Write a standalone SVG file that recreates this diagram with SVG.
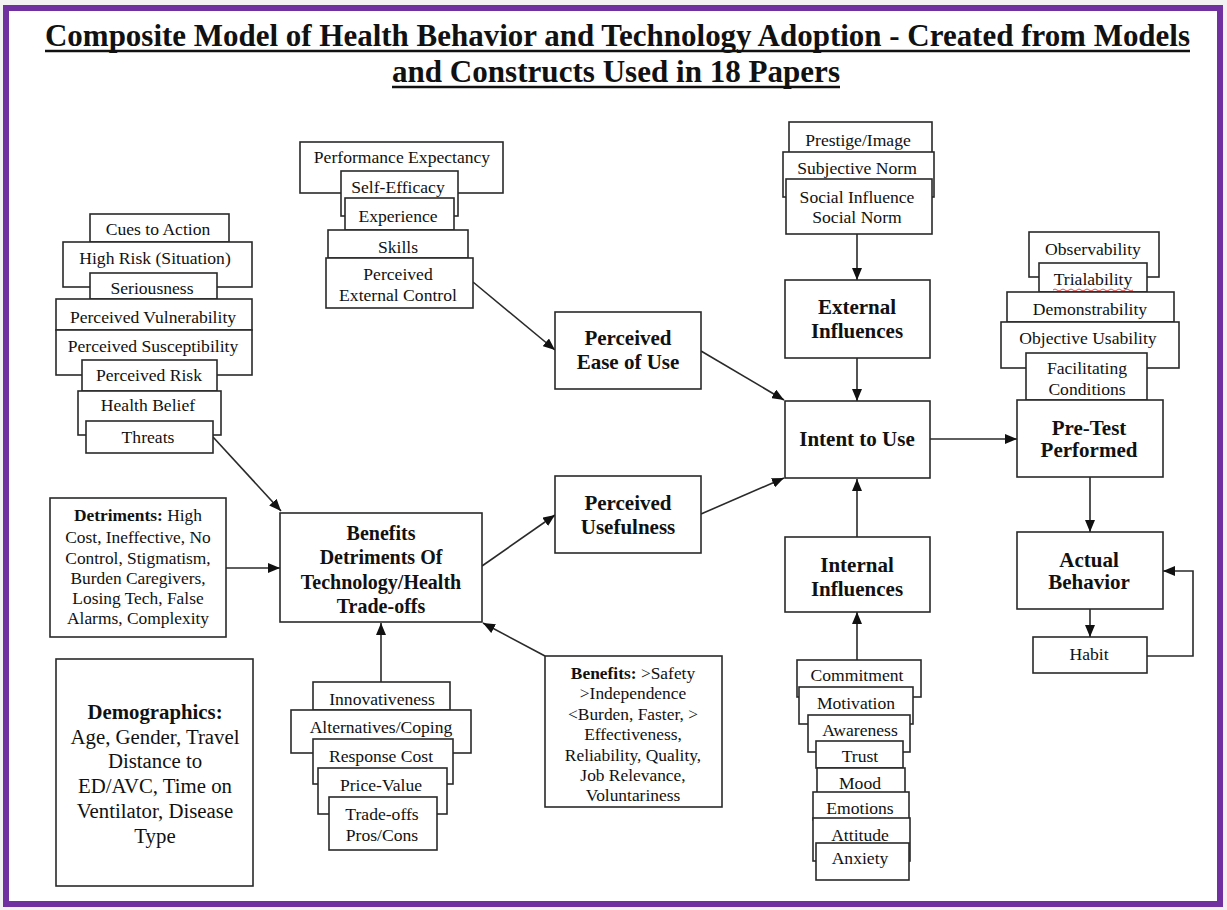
<svg xmlns="http://www.w3.org/2000/svg" width="1227" height="910" viewBox="0 0 1227 910">
  <defs>
    <marker id="arr" markerUnits="userSpaceOnUse" markerWidth="13" markerHeight="10" refX="12" refY="5" orient="auto">
      <path d="M0,0 L12,5 L0,10 z" fill="#111"/>
    </marker>
    <style>
      .box { fill: #fff; stroke: #2a2a2a; stroke-width: 1.6; }
      .t { font-family: "Liberation Serif", "Times New Roman", serif; font-size: 17.6px; text-anchor: middle; fill: #111; }
      .b { font-weight: bold; font-size: 21px; }
      .m { font-size: 17.4px; }
      .d { font-size: 20.8px; }
      .title { font-family: "Liberation Serif", "Times New Roman", serif; font-weight: bold; font-size: 31px; fill: #111; }
      .c { stroke: #2a2a2a; stroke-width: 1.6; fill: none; }
      .a { marker-end: url(#arr); }
    </style>
  </defs>

  <!-- page and frame -->
  <rect x="0" y="0" width="1227" height="910" fill="#f2f2f2"/>
  <rect x="6" y="8" width="1214" height="896" fill="#fff" stroke="#7030a0" stroke-width="6"/>

  <!-- heading -->
  <g id="title">
    <text class="title" x="45" y="46" textLength="1145" lengthAdjust="spacingAndGlyphs">Composite Model of Health Behavior and Technology Adoption - Created from Models</text>
    <line x1="45" y1="51" x2="1190" y2="51" stroke="#111" stroke-width="2.5"/>
    <text class="title" x="392" y="82" textLength="448" lengthAdjust="spacingAndGlyphs">and Constructs Used in 18 Papers</text>
    <line x1="392" y1="87" x2="840" y2="87" stroke="#111" stroke-width="2.5"/>
  </g>

  <!-- connectors -->
  <g id="connectors">
    <line class="c a" x1="213" y1="437" x2="281" y2="511"/>
    <line class="c a" x1="226" y1="568" x2="280" y2="568"/>
    <line class="c a" x1="482" y1="566" x2="555" y2="515"/>
    <line class="c a" x1="545" y1="656" x2="483" y2="623"/>
    <line class="c a" x1="381" y1="682" x2="381" y2="623"/>
    <line class="c a" x1="473" y1="282" x2="555" y2="350"/>
    <line class="c a" x1="701" y1="351" x2="784" y2="400"/>
    <line class="c a" x1="701" y1="514" x2="784" y2="478"/>
    <line class="c a" x1="857" y1="234" x2="857" y2="280"/>
    <line class="c a" x1="857" y1="358" x2="857" y2="401"/>
    <line class="c a" x1="857" y1="537" x2="857" y2="479"/>
    <line class="c a" x1="857" y1="660" x2="857" y2="612"/>
    <line class="c a" x1="930" y1="439" x2="1017" y2="439"/>
    <line class="c a" x1="1090" y1="477" x2="1090" y2="532"/>
    <line class="c a" x1="1090" y1="609" x2="1090" y2="637"/>
    <polyline class="c a" points="1147,656 1193,656 1193,571 1163,571"/>
  </g>

  <!-- health belief constructs -->
  <g id="health-belief-stack">
    <rect class="box" x="90" y="214" width="139" height="28"/>
    <text class="t" x="158" y="235">Cues to Action</text>
    <rect class="box" x="63" y="242" width="189" height="45"/>
    <text class="t" x="155" y="264">High Risk (Situation)</text>
    <rect class="box" x="90" y="273" width="127" height="26"/>
    <text class="t" x="152" y="294">Seriousness</text>
    <rect class="box" x="56" y="299" width="196" height="31"/>
    <text class="t" x="153" y="323">Perceived Vulnerability</text>
    <rect class="box" x="56" y="330" width="196" height="45"/>
    <text class="t" x="153" y="352">Perceived Susceptibility</text>
    <rect class="box" x="82" y="360" width="135" height="31"/>
    <text class="t" x="149" y="381">Perceived Risk</text>
    <rect class="box" x="78" y="391" width="143" height="44"/>
    <text class="t" x="148" y="411">Health Belief</text>
    <rect class="box" x="86" y="421" width="127" height="32"/>
    <text class="t" x="148" y="443">Threats</text>
  </g>

  <!-- efficacy / control constructs -->
  <g id="control-stack">
    <rect class="box" x="300" y="142" width="203" height="51"/>
    <text class="t" x="402" y="163">Performance Expectancy</text>
    <rect class="box" x="341" y="171" width="117" height="45"/>
    <text class="t" x="398" y="193">Self-Efficacy</text>
    <rect class="box" x="345" y="198" width="109" height="32"/>
    <text class="t" x="398" y="222">Experience</text>
    <rect class="box" x="328" y="230" width="140" height="28"/>
    <text class="t" x="398" y="253">Skills</text>
    <rect class="box" x="326" y="258" width="147" height="50"/>
    <text class="t" x="398" y="280">Perceived</text>
    <text class="t" x="398" y="301">External Control</text>
  </g>

  <!-- social constructs -->
  <g id="social-stack">
    <rect class="box" x="789" y="122" width="143" height="31"/>
    <text class="t" x="858" y="146">Prestige/Image</text>
    <rect class="box" x="783" y="152" width="151" height="45"/>
    <text class="t" x="857" y="174">Subjective Norm</text>
    <rect class="box" x="786" y="179" width="146" height="55"/>
    <text class="t" x="857" y="203">Social Influence</text>
    <text class="t" x="857" y="223">Social Norm</text>
  </g>

  <!-- diffusion constructs -->
  <g id="diffusion-stack">
    <rect class="box" x="1029" y="232" width="130" height="45"/>
    <text class="t" x="1093" y="255">Observability</text>
    <rect class="box" x="1039" y="263" width="108" height="29"/>
    <text class="t" x="1093" y="285">Trialability</text>
    <path d="M1053,290 q2,-2 4,0 t4,0 t4,0 t4,0 t4,0 t4,0 t4,0 t4,0 t4,0 t4,0 t4,0 t4,0 t4,0 t4,0 t4,0 t4,0 t4,0 t4,0 t4,0 t4,0" fill="none" stroke="#e03030" stroke-width="0.9"/>
    <rect class="box" x="1007" y="292" width="167" height="30"/>
    <text class="t" x="1090" y="315">Demonstrability</text>
    <rect class="box" x="1001" y="322" width="178" height="46"/>
    <text class="t" x="1088" y="344">Objective Usability</text>
    <rect class="box" x="1026" y="353" width="121" height="47"/>
    <text class="t" x="1087" y="374">Facilitating</text>
    <text class="t" x="1087" y="395">Conditions</text>
  </g>

  <!-- core nodes -->
  <g id="perceived-ease">
    <rect class="box" x="555" y="312" width="146" height="77"/>
    <text class="t b" x="628" y="345">Perceived</text>
    <text class="t b" x="628" y="369">Ease of Use</text>
  </g>
  <g id="perceived-usefulness">
    <rect class="box" x="555" y="476" width="146" height="77"/>
    <text class="t b" x="628" y="510">Perceived</text>
    <text class="t b" x="628" y="534">Usefulness</text>
  </g>
  <g id="external-influences">
    <rect class="box" x="785" y="280" width="145" height="78"/>
    <text class="t b" x="857" y="314">External</text>
    <text class="t b" x="857" y="338">Influences</text>
  </g>
  <g id="intent-to-use">
    <rect class="box" x="785" y="401" width="145" height="77"/>
    <text class="t b" x="857" y="446">Intent to Use</text>
  </g>
  <g id="internal-influences">
    <rect class="box" x="785" y="537" width="145" height="75"/>
    <text class="t b" x="857" y="572">Internal</text>
    <text class="t b" x="857" y="596">Influences</text>
  </g>
  <g id="pre-test">
    <rect class="box" x="1017" y="400" width="146" height="77"/>
    <text class="t b" x="1089" y="435">Pre-Test</text>
    <text class="t b" x="1089" y="457">Performed</text>
  </g>
  <g id="actual-behavior">
    <rect class="box" x="1017" y="532" width="146" height="77"/>
    <text class="t b" x="1089" y="567">Actual</text>
    <text class="t b" x="1089" y="589">Behavior</text>
  </g>
  <g id="habit">
    <rect class="box" x="1033" y="637" width="114" height="36"/>
    <text class="t" x="1089" y="660">Habit</text>
  </g>
  <g id="benefits-detriments">
    <rect class="box" x="280" y="513" width="202" height="109"/>
    <text class="t b" x="381" y="540" style="font-size:20px">Benefits</text>
    <text class="t b" x="381" y="564" style="font-size:20px">Detriments Of</text>
    <text class="t b" x="381" y="589" style="font-size:20px">Technology/Health</text>
    <text class="t b" x="381" y="613" style="font-size:20px">Trade-offs</text>
  </g>

  <!-- detriments list -->
  <g id="detriments">
    <rect class="box" x="50" y="498" width="176" height="139"/>
    <text class="t m" x="138" y="521"><tspan font-weight="bold">Detriments:</tspan> High</text>
    <text class="t m" x="138" y="543">Cost, Ineffective, No</text>
    <text class="t m" x="138" y="564">Control, Stigmatism,</text>
    <text class="t m" x="138" y="584">Burden Caregivers,</text>
    <text class="t m" x="138" y="604">Losing Tech, False</text>
    <text class="t m" x="138" y="624">Alarms, Complexity</text>
  </g>

  <!-- benefits list -->
  <g id="benefits">
    <rect class="box" x="545" y="656" width="177" height="151"/>
    <text class="t m" x="633" y="679"><tspan font-weight="bold">Benefits:</tspan> &gt;Safety</text>
    <text class="t m" x="633" y="699">&gt;Independence</text>
    <text class="t m" x="633" y="720">&lt;Burden, Faster, &gt;</text>
    <text class="t m" x="633" y="740">Effectiveness,</text>
    <text class="t m" x="633" y="761">Reliability, Quality,</text>
    <text class="t m" x="633" y="781">Job Relevance,</text>
    <text class="t m" x="633" y="801">Voluntariness</text>
  </g>

  <!-- cost / trade-off constructs -->
  <g id="tradeoff-stack">
    <rect class="box" x="313" y="682" width="137" height="28"/>
    <text class="t" x="382" y="705">Innovativeness</text>
    <rect class="box" x="291" y="710" width="180" height="43"/>
    <text class="t" x="381" y="733">Alternatives/Coping</text>
    <rect class="box" x="313" y="739" width="140" height="45"/>
    <text class="t" x="381" y="762">Response Cost</text>
    <rect class="box" x="318" y="768" width="129" height="46"/>
    <text class="t" x="381" y="791">Price-Value</text>
    <rect class="box" x="329" y="797" width="108" height="53"/>
    <text class="t" x="382" y="820">Trade-offs</text>
    <text class="t" x="382" y="841">Pros/Cons</text>
  </g>

  <!-- internal constructs -->
  <g id="internal-stack">
    <rect class="box" x="797" y="660" width="124" height="37"/>
    <text class="t" x="857" y="681">Commitment</text>
    <rect class="box" x="799" y="687" width="114" height="37"/>
    <text class="t" x="856" y="709">Motivation</text>
    <rect class="box" x="808" y="715" width="102" height="37"/>
    <text class="t" x="860" y="736">Awareness</text>
    <rect class="box" x="816" y="741" width="87" height="27"/>
    <text class="t" x="860" y="762">Trust</text>
    <rect class="box" x="817" y="768" width="88" height="25"/>
    <text class="t" x="860" y="789">Mood</text>
    <rect class="box" x="813" y="792" width="96" height="28"/>
    <text class="t" x="860" y="814">Emotions</text>
    <rect class="box" x="813" y="818" width="97" height="43"/>
    <text class="t" x="860" y="841">Attitude</text>
    <rect class="box" x="816" y="843" width="93" height="37"/>
    <text class="t" x="860" y="864">Anxiety</text>
  </g>

  <!-- demographics -->
  <g id="demographics">
    <rect class="box" x="56" y="659" width="197" height="227"/>
    <text class="t d" x="155" y="719" font-weight="bold">Demographics:</text>
    <text class="t d" x="155" y="744">Age, Gender, Travel</text>
    <text class="t d" x="155" y="768">Distance to</text>
    <text class="t d" x="155" y="793">ED/AVC,  Time on</text>
    <text class="t d" x="155" y="818">Ventilator,  Disease</text>
    <text class="t d" x="155" y="843">Type</text>
  </g>
</svg>
